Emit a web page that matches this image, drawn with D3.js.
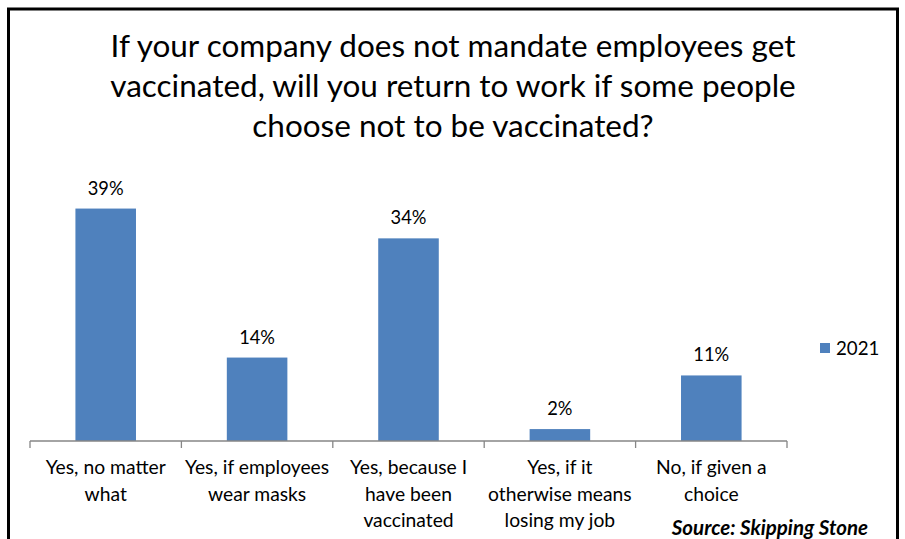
<!DOCTYPE html>
<html>
<head>
<meta charset="utf-8">
<script src="https://cdn.jsdelivr.net/npm/d3@7"></script>
<style>
  html, body { margin: 0; padding: 0; background: #fff; }
  svg { display: block; font-family: Lato, "Open Sans", sans-serif; }
</style>
</head>
<body>
<div id="chart"></div>
<script>
// Survey answers and their shares (percent)
const categories = [
  ["Yes, no matter", "what"],
  ["Yes, if employees", "wear masks"],
  ["Yes, because I", "have been", "vaccinated"],
  ["Yes, if it", "otherwise means", "losing my job"],
  ["No, if given a", "choice"]
];
const values2021 = [39, 14, 34, 2, 11];
const seriesName = "2021";
const titleLines = [
  "If your company does not mandate employees get",
  "vaccinated, will you return to work if some people",
  "choose not to be vaccinated?"
];
const sourceText = "Source: Skipping Stone";

const W = 905, H = 539;
const barColor = "#4F81BD";
const axisColor = "#868686";

const svg = d3.select("#chart").append("svg")
  .attr("width", W).attr("height", H);

svg.append("rect").attr("width", W).attr("height", H).attr("fill", "#fff");

// outer frame
svg.append("rect")
  .attr("x", 8.5).attr("y", 9).attr("width", 889).attr("height", 545)
  .attr("fill", "none").attr("stroke", "#000").attr("stroke-width", 3);

// title
svg.append("g").selectAll("text").data(titleLines).join("text")
  .attr("x", 453).attr("y", (d, i) => 57 + i * 40)
  .attr("text-anchor", "middle")
  .attr("font-size", 31.5)
  .attr("fill", "#000")
  .text(d => d);

const plotLeft = 30, plotRight = 787, baseY = 441;
const x = d3.scaleBand()
  .domain(d3.range(categories.length))
  .range([plotLeft, plotRight])
  .paddingInner(0).paddingOuter(0);
const y = d3.scaleLinear().domain([0, 45]).range([baseY, 172.8]);

const barW = x.bandwidth() * 0.4;

// bars
svg.append("g").selectAll("rect").data(values2021).join("rect")
  .attr("x", (d, i) => x(i) + (x.bandwidth() - barW) / 2)
  .attr("y", d => y(d))
  .attr("width", barW)
  .attr("height", d => y(0) - y(d))
  .attr("fill", barColor);

// value labels
svg.append("g").selectAll("text").data(values2021).join("text")
  .attr("x", (d, i) => x(i) + x.bandwidth() / 2)
  .attr("y", d => y(d) - 14)
  .attr("text-anchor", "middle")
  .attr("font-size", 18.3)
  .attr("fill", "#000")
  .text(d => d + "%");

// category axis
const axis = d3.axisBottom(x).tickSize(0).tickFormat("");
const gAxis = svg.append("g").attr("transform", `translate(0,${baseY})`).call(axis);
gAxis.select(".domain").attr("stroke", axisColor).attr("stroke-width", 1.3)
  .attr("d", `M${plotLeft},0H${plotRight}`);
gAxis.selectAll(".tick").remove();
const tickPos = d3.range(categories.length + 1).map(i => i < categories.length ? x(i) : plotRight);
gAxis.selectAll("line.sep").data(tickPos).join("line")
  .attr("class", "sep")
  .attr("x1", d => d).attr("x2", d => d)
  .attr("y1", 0).attr("y2", 7)
  .attr("stroke", axisColor).attr("stroke-width", 1.3);

// category labels
const catG = svg.append("g").selectAll("text").data(categories).join("text")
  .attr("text-anchor", "middle")
  .attr("font-size", 19.3)
  .attr("fill", "#000");
catG.selectAll("tspan").data((d, i) => d.map(t => ({ t, i }))).join("tspan")
  .attr("x", d => x(d.i) + x.bandwidth() / 2)
  .attr("y", (d, j) => 474 + j * 26.5)
  .text(d => d.t);

// legend
const leg = svg.append("g").attr("transform", "translate(820,343)");
leg.append("rect").attr("width", 10).attr("height", 10).attr("fill", barColor);
leg.append("text").attr("x", 16).attr("y", 11.5).attr("font-size", 18.7)
  .attr("fill", "#000").text(seriesName);

// source note
svg.append("text")
  .attr("x", 868).attr("y", 534.5)
  .attr("text-anchor", "end")
  .attr("font-size", 20.5)
  .attr("font-weight", "bold").attr("font-style", "italic")
  .attr("fill", "#000")
  .text(sourceText);
</script>
</body>
</html>
